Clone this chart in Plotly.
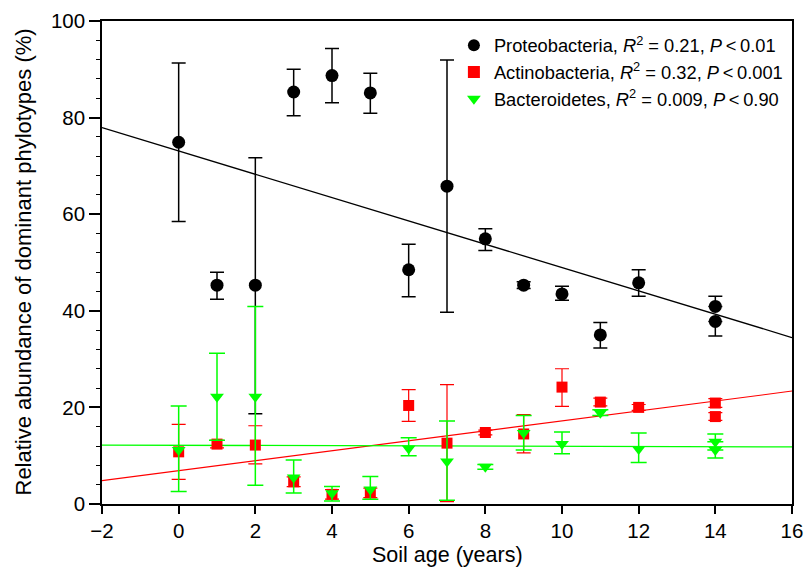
import plotly.graph_objects as go

# ---- data ----
soil_age = [0, 1, 2, 3, 4, 5, 6, 7, 8, 9, 10, 11, 12, 14, 14]

proteo = [74.9, 45.3, 45.3, 85.3, 88.7, 85.1, 48.5, 65.8, 54.9, 45.3, 43.5, 35.0, 45.8, 40.9, 37.8]
proteo_err_up = [16.4, 2.7, 26.4, 4.7, 5.6, 4.1, 5.3, 26.1, 2.1, 0.7, 1.6, 2.6, 2.7, 2.1, 0.0]
proteo_err_dn = [16.4, 2.9, 26.6, 4.9, 5.6, 4.2, 5.6, 26.1, 2.4, 0.7, 1.3, 2.7, 2.8, 0.0, 3.0]

actino = [10.8, 12.4, 12.2, 4.6, 2.0, 2.3, 20.4, 12.6, 14.8, 14.5, 24.2, 21.1, 20.0, 20.9, 18.1]
actino_err_up = [5.7, 0.8, 4.0, 1.0, 1.0, 1.0, 3.3, 12.1, 0.5, 4.0, 3.8, 0.8, 0.6, 0.9, 0.8]
actino_err_dn = [5.7, 0.8, 3.9, 1.0, 1.0, 1.0, 3.3, 12.1, 0.5, 3.9, 4.0, 0.8, 0.6, 0.9, 0.8]

bactero = [11.2, 22.2, 22.2, 5.5, 2.2, 3.0, 11.5, 8.8, 7.7, 14.7, 12.4, 18.9, 11.4, 12.9, 11.2]
bactero_err_up = [9.1, 9.0, 18.7, 3.6, 1.4, 2.7, 2.2, 8.4, 0.5, 3.6, 2.5, 0.6, 3.3, 1.6, 1.7]
bactero_err_dn = [8.6, 9.0, 18.3, 3.2, 1.6, 2.0, 1.5, 8.0, 0.5, 3.5, 2.0, 0.6, 2.8, 1.7, 1.7]

# regression lines (slope, intercept)
fit_x = [-2, 16]
proteo_fit = (-2.415, 73.1)
actino_fit = (1.03, 6.9)
bactero_fit = (-0.022, 12.16)

names = [
    "Proteobacteria, <i>R</i><sup>2</sup> = 0.21, <i>P</i>\u2009<\u20090.01",
    "Actinobacteria, <i>R</i><sup>2</sup> = 0.32, <i>P</i>\u2009<\u20090.001",
    "Bacteroidetes, <i>R</i><sup>2</sup> = 0.009, <i>P</i>\u2009<\u20090.90",
]
x_title = "Soil age (years)"
y_title = "Relative abundance of dominant phylotypes (%)"

FONT = "Liberation Sans, Arial, sans-serif"

fig = go.Figure()

series = [
    (proteo, proteo_err_up, proteo_err_dn, proteo_fit, "black", "circle", 13, 1.5, 7, 1.3, names[0]),
    (actino, actino_err_up, actino_err_dn, actino_fit, "#ff0000", "square", 11, 1.2, 7, 1.1, names[1]),
    (bactero, bactero_err_up, bactero_err_dn, bactero_fit, "#00ff00", "triangle-down", 12, 1.5, 8, 1.3, names[2]),
]

for vals, up, dn, fit, col, sym, size, lw, capw, flw, nm in series:
    slope, icpt = fit
    fig.add_trace(go.Scatter(
        x=fit_x, y=[slope * xx + icpt for xx in fit_x], mode="lines",
        line=dict(color=col, width=flw), showlegend=False, hoverinfo="skip"))

for vals, up, dn, fit, col, sym, size, lw, capw, flw, nm in series:
    fig.add_trace(go.Scatter(
        x=soil_age, y=vals, mode="markers", name=nm,
        marker=dict(color=col, symbol=sym, size=size, line=dict(width=0)),
        error_y=dict(type="data", symmetric=False, array=up, arrayminus=dn,
                     color=col, thickness=lw, width=capw),
    ))

fig.update_layout(
    width=805, height=569,
    margin=dict(l=102, r=13, t=21, b=65),
    paper_bgcolor="white", plot_bgcolor="white",
    font=dict(family=FONT, size=20.5, color="black"),
    showlegend=True,
    legend=dict(x=0.51, y=0.988, xanchor="left", yanchor="top",
                bgcolor="rgba(0,0,0,0)", font=dict(size=18.3, family=FONT),
                itemsizing="constant", tracegroupgap=0),
    annotations=[
        dict(text=x_title, xref="paper", yref="paper", x=0.5, y=0,
             xanchor="center", yanchor="middle", yshift=-51, showarrow=False,
             font=dict(size=21.5, family=FONT, color="black")),
        dict(text=y_title, xref="paper", yref="paper", x=0, y=0.5,
             xanchor="center", yanchor="middle", xshift=-79, textangle=-90,
             showarrow=False, font=dict(size=22, family=FONT, color="black")),
    ],
)
fig.update_xaxes(
    range=[-2, 16], tickmode="array", tickvals=list(range(-2, 17, 2)),
    ticktext=["\u22122"] + [str(v) for v in range(0, 17, 2)],
    showgrid=False, zeroline=False, showline=True, linecolor="black", linewidth=1.5,
    mirror=True, ticks="outside", ticklen=8, tickwidth=1.5, tickcolor="black",
    automargin=False,
)
fig.update_yaxes(
    range=[0, 100], tickmode="array", tickvals=list(range(0, 101, 20)),
    showgrid=False, zeroline=False, showline=True, linecolor="black", linewidth=1.5,
    mirror=True, ticks="outside", ticklen=11, tickwidth=1.5, tickcolor="black",
    minor=dict(dtick=4, ticks="outside", ticklen=4, tickwidth=1.2, tickcolor="black", showgrid=False),
    automargin=False,
)

fig.write_html("out.html")
